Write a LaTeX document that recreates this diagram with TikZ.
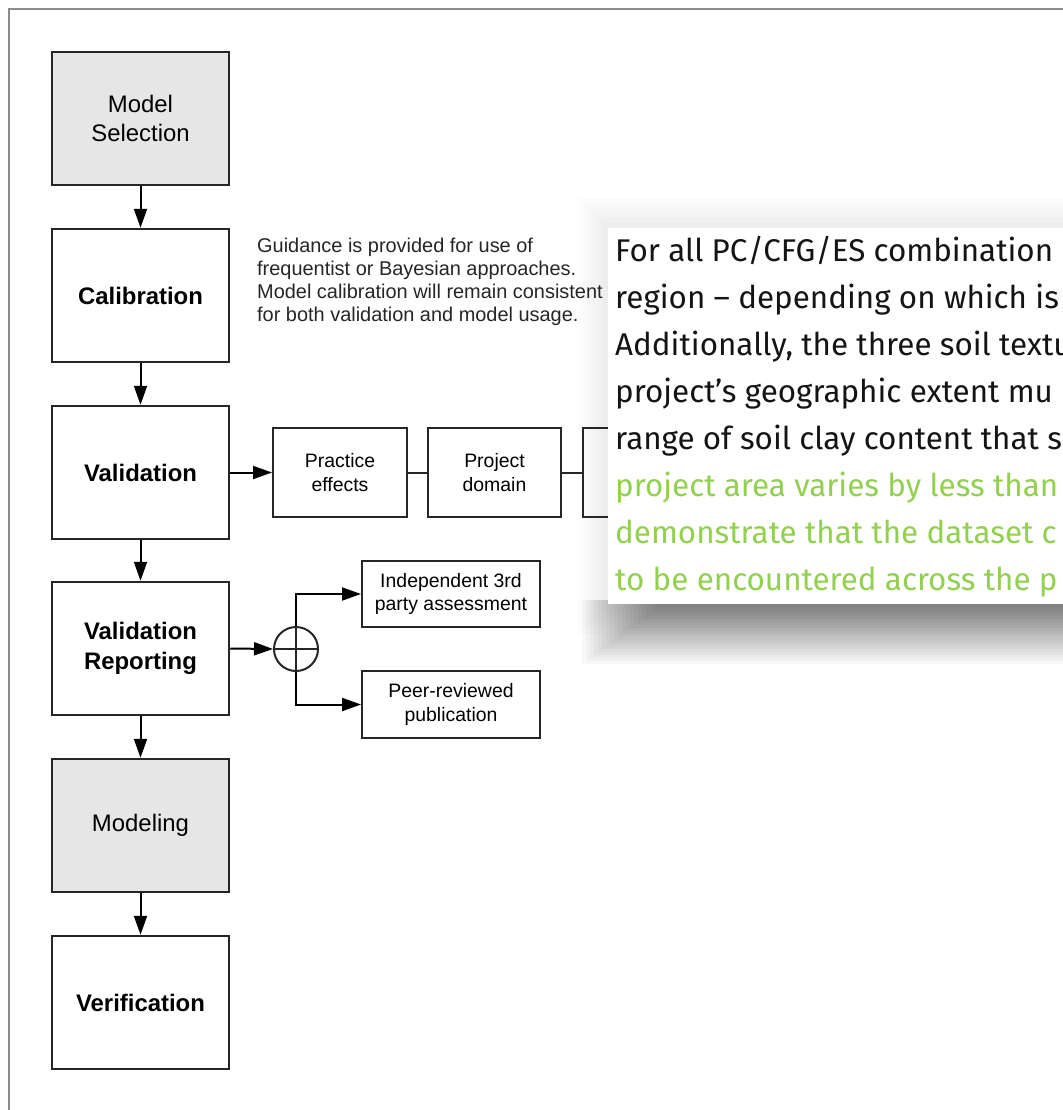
\documentclass[tikz,border=0pt]{standalone}
\usepackage{fontspec}
\setmainfont{Liberation Sans}
\newfontfamily\notefont{Fira Sans}
\usetikzlibrary{arrows.meta}
\definecolor{frame}{HTML}{8C8C8C}
\definecolor{ink}{HTML}{262626}
\definecolor{stagefill}{HTML}{E6E6E6}
\definecolor{notegreen}{HTML}{92D050}
\definecolor{notetext}{HTML}{141414}

\begin{document}
\begin{tikzpicture}[x=1bp,y=-1bp,
  stage/.style={draw=ink, line width=2.5bp, minimum width=177bp, minimum height=133bp,
    inner sep=0, align=center, font=\fontsize{24}{29.5}\selectfont},
  keystage/.style={stage, font=\fontsize{24}{29.5}\selectfont\bfseries},
  softstage/.style={stage, fill=stagefill},
  sidebox/.style={draw=ink, line width=2bp, inner sep=0, align=center,
    font=\fontsize{19.5}{23.7}\selectfont},
  flow/.style={draw=black, line width=2bp, -{Triangle[length=19bp,width=13bp]}},
  link/.style={draw=ink, line width=2bp},
  guideline/.style={anchor=base west, inner sep=0, text=ink, font=\fontsize{20}{23.3}\selectfont},
  noteline/.style={anchor=base west, inner sep=0, font=\notefont\fontsize{31.5}{47}\selectfont}
]
\useasboundingbox (0,0) rectangle (1063,1110);
\fill[white] (0,0) rectangle (1063,1110);

% page frame (top and left edges)
\draw[frame, line width=2bp] (1063,8.5) -- (8.5,8.5) -- (8.5,1110);

% soft drop shadow of the note card
\foreach \k in {1,...,6}
  \fill[black, opacity=0.010] ({608-5*\k},{228-5*\k}) rectangle (1063,{604+5*\k});
\foreach \k in {0,...,19}
  \fill[black, opacity=0.026] ({582+4*\k},600) rectangle (1063,{664-3*\k});

% main stages
\node[softstage] (ms)  at (140.5,118.5)  {Model\\Selection};
\node[keystage]  (cal) at (140.5,295.5)  {Calibration};
\node[keystage]  (val) at (140.5,472.5)  {Validation};
\node[keystage]  (vr)  at (140.5,648.5)  {Validation\\Reporting};
\node[softstage] (mod) at (140.5,825.5)  {Modeling};
\node[keystage]  (ver) at (140.5,1002.5) {Verification};

\draw[flow] (ms.south)  -- (cal.north);
\draw[flow] (cal.south) -- (val.north);
\draw[flow] (val.south) -- (vr.north);
\draw[flow] (vr.south)  -- (mod.north);
\draw[flow] (mod.south) -- (ver.north);

% calibration note
\node[guideline] (g1) at (257,252)   {Guidance is provided for use of};
\node[guideline] (g2) at (257,275.3) {frequentist or Bayesian approaches.};
\node[guideline] (g3) at (257,298.6) {Model calibration will remain consistent};
\node[guideline] (g4) at (257,321.9) {for both validation and model usage.};

% validation criteria chain
\node[sidebox, minimum width=134bp, minimum height=89bp] (pe) at (340,472.5) {Practice\\effects};
\node[sidebox, minimum width=133bp, minimum height=89bp] (pd) at (494.5,472.5) {Project\\domain};
\node[sidebox, minimum width=134bp, minimum height=89bp] (c3) at (650,472.5) {};
\draw[flow] (val.east) -- (pe.west);
\draw[link] (pe.east) -- (pd.west);
\draw[link] (pd.east) -- (c3.west);

% reporting branches
\node[draw=ink, line width=2bp, circle, minimum size=44bp, inner sep=0] (sum) at (296,649) {};
\draw[link] (sum.west) -- (sum.east);
\node[sidebox, minimum width=178bp, minimum height=66bp] (ind)  at (451,594)   {Independent 3rd\\party assessment};
\node[sidebox, minimum width=178bp, minimum height=67bp] (peer) at (451,704.5) {Peer-reviewed\\publication};
\draw[flow] (vr.east) -- (sum.west);
\draw[link] (sum.north) -- (sum.south);
\draw[flow] (sum.north) |- (ind.west);
\draw[flow] (sum.south) |- (peer.west);

% note card
\node[fill=white, inner sep=0, minimum width=455bp, minimum height=376bp, anchor=north west] (note) at (608,228) {};
\begin{scope}
  \clip (note.north west) rectangle (note.south east);
  \node[noteline, text=notetext]  (n1) at (615,261) {For all PC/CFG/ES combination};
  \node[noteline, text=notetext]  (n2) at (615,308) {region – depending on which is};
  \node[noteline, text=notetext]  (n3) at (615,355) {Additionally, the three soil textu};
  \node[noteline, text=notetext]  (n4) at (615,402) {project’s geographic extent mu};
  \node[noteline, text=notetext]  (n5) at (615,449) {range of soil clay content that s};
  \node[noteline, text=notegreen] (n6) at (615,496) {project area varies by less than};
  \node[noteline, text=notegreen] (n7) at (615,543) {demonstrate that the dataset c};
  \node[noteline, text=notegreen] (n8) at (615,590) {to be encountered across the p};
\end{scope}
\end{tikzpicture}
\end{document}
